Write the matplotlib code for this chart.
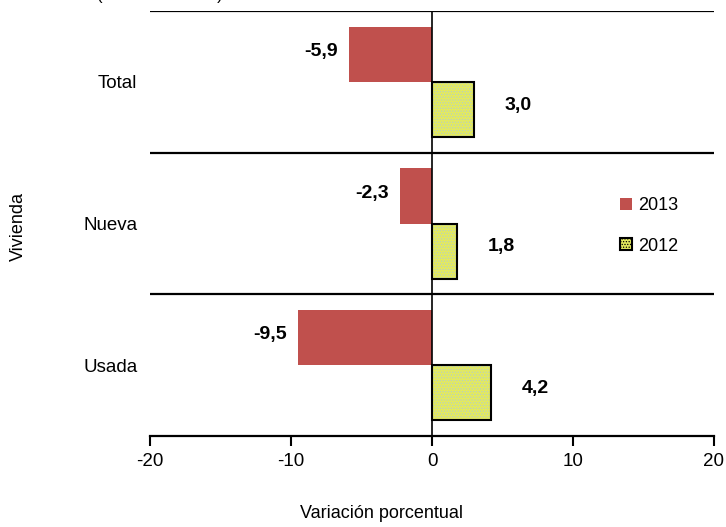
import numpy as np
import matplotlib.pyplot as plt
from matplotlib.patches import Patch

plt.rcParams['font.family'] = ['Liberation Sans', 'DejaVu Sans']
plt.rcParams['hatch.linewidth'] = 0.6

categorias = ['Total', 'Nueva', 'Usada']
var_2013 = [-5.9, -2.3, -9.5]
var_2012 = [3.0, 1.8, 4.2]
series = ['2013', '2012']
xticks = [-20, -10, 0, 10, 20]

rojo = '#c0504d'
amarillo = '#e3ea5e'

fig = plt.figure(figsize=(7.26, 5.27), dpi=100)
ax = fig.add_axes([150 / 726, 1 - 436 / 527, 564 / 726, 425 / 527])

pos = np.arange(len(categorias))[::-1]
h = 0.39

ax.barh(pos + h / 2, var_2013, height=h, color=rojo, label=series[0], zorder=2)
# relleno punteado y contorno por separado para que la trama no sea negra
ax.barh(pos - h / 2, var_2012, height=h, color=amarillo, hatch='......',
        edgecolor='#b9cfc0', linewidth=0, zorder=2)
ax.barh(pos - h / 2, var_2012, height=h, facecolor='none', edgecolor='black',
        linewidth=1.5, zorder=3)

# etiquetas de valor con coma decimal
for y, v in zip(pos, var_2013):
    ax.annotate(f'{v:.1f}'.replace('.', ','), (v, y + h / 2), xytext=(-8, 2),
                textcoords='offset points', ha='right', va='center',
                fontsize=14, fontweight='bold')
for y, v in zip(pos, var_2012):
    ax.annotate(f'{v:.1f}'.replace('.', ','), (v, y - h / 2), xytext=(22, 3),
                textcoords='offset points', ha='left', va='center',
                fontsize=14, fontweight='bold')

# separadores entre categorias
for b in [0.5, 1.5, 2.5]:
    ax.axhline(b, color='black', linewidth=1.6, zorder=1)
ax.axvline(0, color='black', linewidth=1.2, zorder=4)

ax.set_xlim(-20, 20)
ax.set_ylim(-0.5, 2.5)
ax.set_xticks(xticks)
ax.set_xticklabels([str(t) for t in xticks], fontsize=13.5)
ax.set_yticks(pos)
ax.set_yticklabels(categorias, fontsize=13.5)
ax.tick_params(axis='y', length=0, pad=9)
ax.tick_params(axis='x', length=7, width=1.5, pad=5)

for s in ['top', 'right', 'left']:
    ax.spines[s].set_visible(False)
ax.spines['bottom'].set_linewidth(1.6)

# leyenda: la muestra de 2012 lleva contorno negro
handles = [Patch(facecolor=rojo, label=series[0]),
           Patch(facecolor=amarillo, edgecolor='black', hatch='......',
                 linewidth=1.5, label=series[1])]
ax.legend(handles=handles, loc='upper left', bbox_to_anchor=(0.805, 0.6),
          frameon=False, fontsize=13, handlelength=0.65, handleheight=0.65,
          handletextpad=0.35, labelspacing=1.3)

fig.text(18 / 726, 1 - 227 / 527, 'Vivienda', rotation=90, ha='center',
         va='center', fontsize=13)
fig.text(382 / 726, 1 - 513 / 527, 'Variación porcentual', ha='center',
         va='center', fontsize=13)
fig.text(160 / 726, 1.0, '(Variación anual)', ha='center',
         va='baseline', fontsize=12)

fig.savefig('out.png', dpi=100)
